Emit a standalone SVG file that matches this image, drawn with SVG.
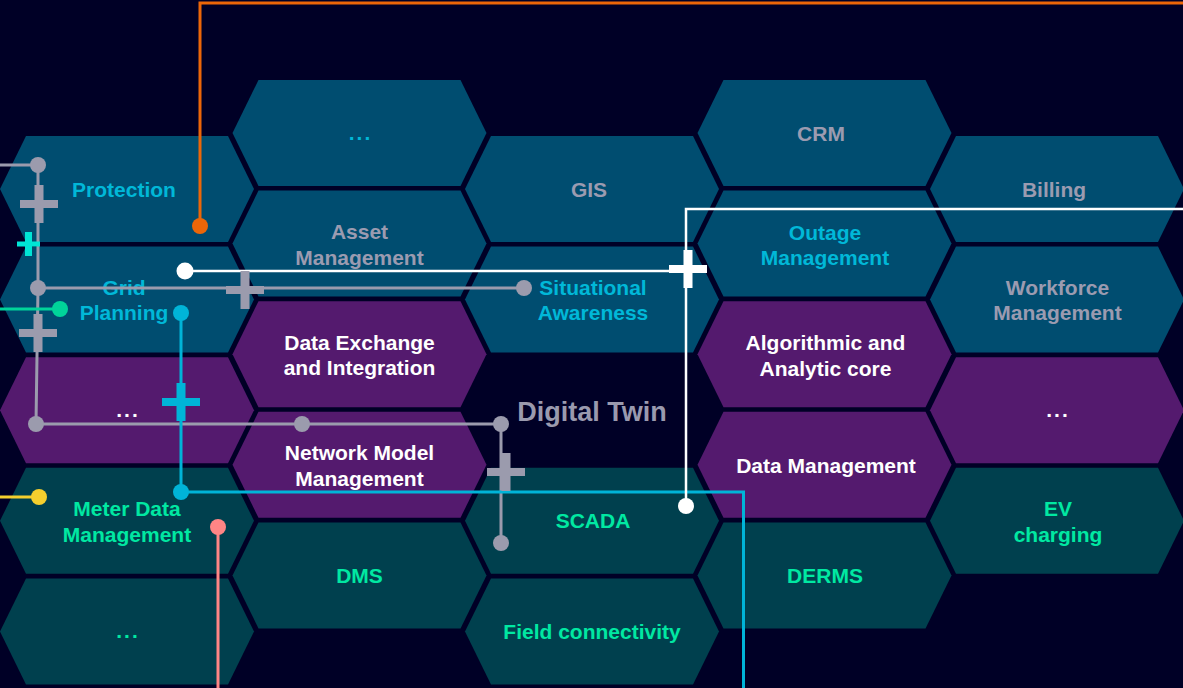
<svg xmlns="http://www.w3.org/2000/svg" xmlns:xlink="http://www.w3.org/1999/xlink" width="1183" height="688" viewBox="0 0 1183 688">
<style>
.b{fill:#004d70}.p{fill:#541a6e}.t{fill:#00404e}
.lab{font-family:"Liberation Sans",Arial,sans-serif;font-weight:bold;font-size:21px;text-anchor:middle}
.cy{fill:#00b8d8}.gr{fill:#9b9bb0}.gn{fill:#00e8a2}.wh{fill:#ffffff}
.dots{letter-spacing:2px}
.ln{fill:none;stroke-width:3}
.sg{stroke:#9b9bad}.so{stroke:#ec6608}.sc{stroke:#00b4d8}.sw{stroke:#ffffff;stroke-width:2.5}.sy{stroke:#f5cf2e}.sn{stroke:#00d49a}.sp{stroke:#ff8585}
.fg{fill:#9b9bad}.fo{fill:#ec6608}.fc{fill:#00b4d8}.fw{fill:#ffffff}.fy{fill:#f5cf2e}.fn{fill:#00d49a}.fp{fill:#ff8585}.ft{fill:#00e5d5}
</style>
<defs>
<polygon id="hex" points="-127,0 -101,-53 101,-53 127,0 101,53 -101,53"/>
<path id="plus" d="M-19,-4h38v8h-38z M-4.5,-19h9v38h-9z"/>
<path id="splus" d="M-11.5,-2.5h23v5h-23z M-3.5,-12h7v24h-7z"/>
</defs>
<rect width="1183" height="688" fill="#000026"/>

<g id="protection"><use xlink:href="#hex" x="127" y="189" class="b"/><text class="lab cy" x="124" y="196.5">Protection</text></g>
<g id="grid-planning"><use xlink:href="#hex" x="127" y="299.6" class="b"/><text class="lab cy" x="124" y="294.8">Grid</text><text class="lab cy" x="124" y="320">Planning</text></g>
<g id="col1-more"><use xlink:href="#hex" x="127" y="410.2" class="p"/><text class="lab wh dots" x="128" y="417">...</text></g>
<g id="meter-data"><use xlink:href="#hex" x="127" y="520.8" class="t"/><text class="lab gn" x="127" y="516">Meter Data</text><text class="lab gn" x="127" y="541.5">Management</text></g>
<g id="col1-more2"><use xlink:href="#hex" x="127" y="631.4" class="t"/><text class="lab gn dots" x="128" y="638.4">...</text></g>

<g id="col2-more"><use xlink:href="#hex" x="359.5" y="133" class="b"/><text class="lab cy dots" x="360.5" y="140">...</text></g>
<g id="asset-management"><use xlink:href="#hex" x="359.5" y="243.6" class="b"/><text class="lab gr" x="359.5" y="239">Asset</text><text class="lab gr" x="359.5" y="264.5">Management</text></g>
<g id="data-exchange"><use xlink:href="#hex" x="359.5" y="354.2" class="p"/><text class="lab wh" x="359.5" y="349.5">Data Exchange</text><text class="lab wh" x="359.5" y="375.2">and Integration</text></g>
<g id="network-model"><use xlink:href="#hex" x="359.5" y="464.8" class="p"/><text class="lab wh" x="359.5" y="460">Network Model</text><text class="lab wh" x="359.5" y="485.6">Management</text></g>
<g id="dms"><use xlink:href="#hex" x="359.5" y="575.4" class="t"/><text class="lab gn" x="359.5" y="583">DMS</text></g>

<g id="gis"><use xlink:href="#hex" x="592" y="189" class="b"/><text class="lab gr" x="589" y="196.5">GIS</text></g>
<g id="situational-awareness"><use xlink:href="#hex" x="592" y="299.6" class="b"/><text class="lab cy" x="593" y="294.8">Situational</text><text class="lab cy" x="593" y="320.4">Awareness</text></g>
<g id="scada"><use xlink:href="#hex" x="592" y="520.8" class="t"/><text class="lab gn" x="593" y="528.3">SCADA</text></g>
<g id="field-connectivity"><use xlink:href="#hex" x="592" y="631.4" class="t"/><text class="lab gn" x="592" y="639">Field connectivity</text></g>

<g id="crm"><use xlink:href="#hex" x="824.5" y="133" class="b"/><text class="lab gr" x="821" y="140.5">CRM</text></g>
<g id="outage-management"><use xlink:href="#hex" x="824.5" y="243.6" class="b"/><text class="lab cy" x="825" y="240">Outage</text><text class="lab cy" x="825" y="265">Management</text></g>
<g id="algorithmic-core"><use xlink:href="#hex" x="824.5" y="354.2" class="p"/><text class="lab wh" x="825.5" y="350">Algorithmic and</text><text class="lab wh" x="825.5" y="375.8">Analytic core</text></g>
<g id="data-management"><use xlink:href="#hex" x="824.5" y="464.8" class="p"/><text class="lab wh" x="826" y="472.8">Data Management</text></g>
<g id="derms"><use xlink:href="#hex" x="824.5" y="575.4" class="t"/><text class="lab gn" x="825" y="583">DERMS</text></g>

<g id="billing"><use xlink:href="#hex" x="1057" y="189" class="b"/><text class="lab gr" x="1054" y="196.5">Billing</text></g>
<g id="workforce-management"><use xlink:href="#hex" x="1057" y="299.6" class="b"/><text class="lab gr" x="1057.5" y="294.8">Workforce</text><text class="lab gr" x="1057.5" y="320.4">Management</text></g>
<g id="col5-more"><use xlink:href="#hex" x="1057" y="410.2" class="p"/><text class="lab wh dots" x="1058" y="417">...</text></g>
<g id="ev-charging"><use xlink:href="#hex" x="1057" y="520.8" class="t"/><text class="lab gn" x="1058" y="516">EV</text><text class="lab gn" x="1058" y="541.5">charging</text></g>

<text id="digital-twin" x="592" y="421" style="font-family:'Liberation Sans',Arial,sans-serif;font-weight:bold;font-size:27px;text-anchor:middle;fill:#9a9aae">Digital Twin</text>

<g id="connectors">
<path class="ln so" d="M200,226 V3 H1183"/>
<circle class="fo" cx="200" cy="226" r="8"/>

<path class="ln sg" d="M0,165 H38 V288 L36,424 H501 V543"/>
<path class="ln sg" d="M38,288 H524"/>
<circle class="fg" cx="38" cy="165" r="8"/>
<circle class="fg" cx="38" cy="288" r="8"/>
<circle class="fg" cx="524" cy="288" r="8"/>
<circle class="fg" cx="36" cy="424" r="8"/>
<circle class="fg" cx="302" cy="424" r="8"/>
<circle class="fg" cx="501" cy="424" r="8"/>
<circle class="fg" cx="501" cy="543" r="8"/>

<path class="ln sn" d="M0,309 H60"/>
<circle class="fn" cx="60" cy="309" r="8"/>

<path class="ln sy" d="M0,497 H39"/>
<circle class="fy" cx="39" cy="497" r="8"/>

<path class="ln sc" d="M181,313 V492 H743.5 V688"/>
<circle class="fc" cx="181" cy="313" r="8"/>
<circle class="fc" cx="181" cy="492" r="8"/>

<path class="ln sp" d="M218,527 V688"/>
<circle class="fp" cx="218" cy="527" r="8"/>

<path class="ln sw" d="M185,271 H688"/>
<path class="ln sw" d="M686,506 V209 H1183"/>
<circle class="fw" cx="185" cy="271" r="8.5"/>
<circle class="fw" cx="686" cy="506" r="8"/>

<use xlink:href="#plus" x="39" y="204" class="fg"/>
<use xlink:href="#plus" x="38" y="333" class="fg"/>
<use xlink:href="#plus" x="245" y="290" class="fg"/>
<use xlink:href="#plus" x="506" y="472" class="fg"/>
<use xlink:href="#plus" x="181" y="402" class="fc"/>
<use xlink:href="#plus" x="688" y="269" class="fw"/>
<use xlink:href="#splus" x="28.5" y="244" class="ft"/>
</g>
</svg>
